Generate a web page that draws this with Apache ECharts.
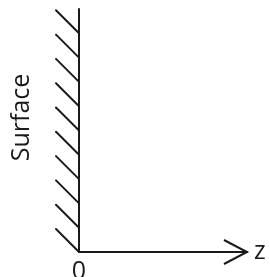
<!DOCTYPE html>
<html><head><meta charset="utf-8">
<script src="https://cdn.jsdelivr.net/npm/echarts@6/dist/echarts.min.js"></script>
<style>html,body{margin:0;padding:0;background:#fff}#c{width:270px;height:277px}</style>
</head><body><div id="c"></div>
<script>
// Data
const zTicks = [0];                 // tick label shown on z axis
const zRange = [0, 1];              // z axis extent
const surfaceRange = [0, 10];       // vertical (surface) axis extent
const hatchPositions = [0, 1, 2, 3, 4, 5, 6, 7, 8, 9]; // hatch marks along the surface
const axisNames = { x: 'z', y: 'Surface' };

const INK = '#1a1a1a';
const FONT = 'Open Sans';

const chart = echarts.init(document.getElementById('c'), null, { renderer: 'canvas' });
chart.setOption({
  animation: false,
  backgroundColor: '#fff',
  grid: { left: 79, right: 23, top: 9, bottom: 25, containLabel: false, outerBoundsMode: 'none' },
  xAxis: {
    type: 'value', min: zRange[0], max: zRange[1], interval: 1,
    name: axisNames.x, nameLocation: 'end', nameGap: 7,
    nameTextStyle: { color: INK, fontFamily: FONT, fontSize: 25, verticalAlign: 'middle', padding: [0, 0, 5, 0] },
    axisLine: { show: true, onZero: false, lineStyle: { color: INK, width: 2 } },
    axisTick: { show: false },
    splitLine: { show: false },
    axisLabel: {
      color: INK, fontFamily: FONT, fontSize: 25, margin: 7,
      formatter: v => zTicks.indexOf(v) >= 0 ? String(v) : ''
    }
  },
  yAxis: {
    type: 'value', min: surfaceRange[0], max: surfaceRange[1],
    name: axisNames.y, nameLocation: 'middle', nameRotate: 90, nameGap: 45,
    nameTextStyle: { color: INK, fontFamily: FONT, fontSize: 25, padding: [0, 0, 0, 26] },
    axisLine: { show: true, onZero: false, lineStyle: { color: INK, width: 2 } },
    axisTick: { show: false }, axisLabel: { show: false }, splitLine: { show: false }
  },
  series: [
    {
      type: 'custom', name: 'hatch', silent: true,
      data: hatchPositions.map(p => [0, p]),
      renderItem: (params, api) => {
        const pt = api.coord([api.value(0), api.value(1)]);
        return {
          type: 'line',
          shape: { x1: pt[0], y1: pt[1], x2: pt[0] - 23, y2: pt[1] - 23 },
          style: { stroke: INK, lineWidth: 2, lineCap: 'round' }
        };
      }
    },
    {
      type: 'custom', name: 'arrow', silent: true,
      data: [[zRange[1], surfaceRange[0]]],
      renderItem: (params, api) => {
        const pt = api.coord([api.value(0), api.value(1)]);
        return {
          type: 'polyline',
          shape: { points: [[pt[0] - 23, pt[1] - 12], [pt[0], pt[1]], [pt[0] - 23, pt[1] + 12]] },
          style: { stroke: INK, lineWidth: 2, fill: null, lineJoin: 'miter' }
        };
      }
    }
  ]
});
</script></body></html>
